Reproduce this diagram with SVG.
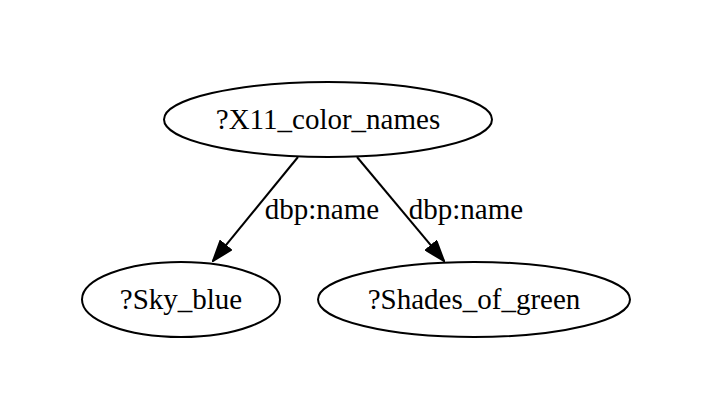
<svg xmlns="http://www.w3.org/2000/svg" width="712" height="420" viewBox="0 0 712 420">
<style>
.node ellipse{fill:none;stroke:#000;stroke-width:2}
.lbl{font-family:"Liberation Serif","Times New Roman",serif;font-size:29px;fill:#000}
.edge line{stroke:#000;stroke-width:2}
</style>
<defs>
<marker id="arr" markerUnits="userSpaceOnUse" markerWidth="22" markerHeight="16" refX="20" refY="7" orient="auto" viewBox="-1 -1 22 16">
<path d="M0,0 L20,7 L0,14 z" fill="#000" stroke="#000" stroke-width="2" stroke-linejoin="miter"/>
</marker>
</defs>
<rect width="712" height="420" fill="#fff"/>
<g id="edges" class="edge">
<line x1="298" y1="157" x2="213" y2="261" marker-end="url(#arr)"/>
<line x1="357" y1="157" x2="444" y2="261" marker-end="url(#arr)"/>
<text class="lbl" x="322" y="219" text-anchor="middle">dbp:name</text>
<text class="lbl" x="466" y="219" text-anchor="middle">dbp:name</text>
</g>
<g id="X11_color_names" class="node">
<ellipse cx="328" cy="119.5" rx="164" ry="37.5"/>
<text class="lbl" x="328" y="129" text-anchor="middle">?X11_color_names</text>
</g>
<g id="Sky_blue" class="node">
<ellipse cx="181" cy="299.5" rx="99" ry="37.5"/>
<text class="lbl" x="181" y="309" text-anchor="middle">?Sky_blue</text>
</g>
<g id="Shades_of_green" class="node">
<ellipse cx="474" cy="299.5" rx="156" ry="37.5"/>
<text class="lbl" x="474" y="309" text-anchor="middle">?Shades_of_green</text>
</g>
</svg>
